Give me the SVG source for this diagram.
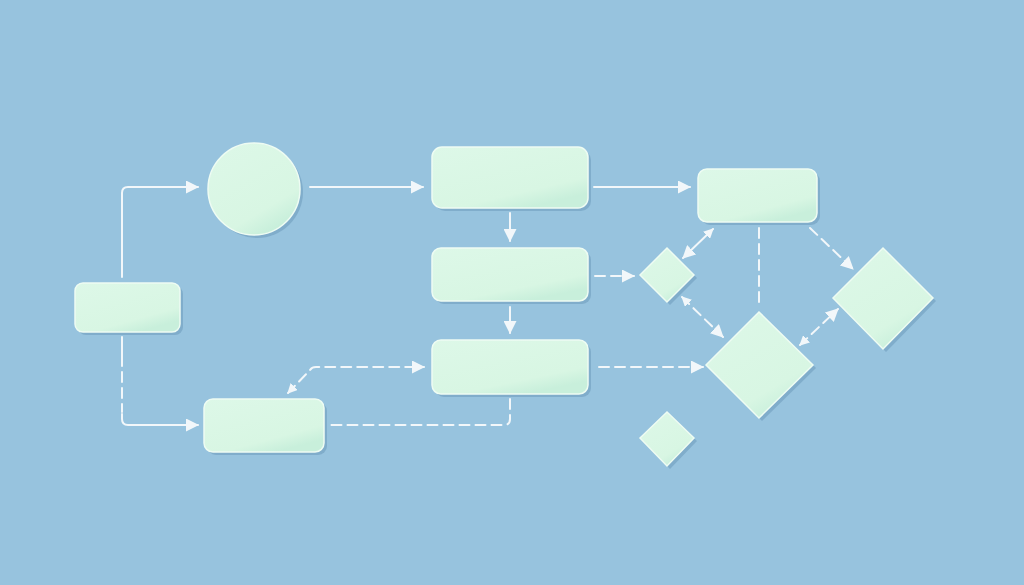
<svg xmlns="http://www.w3.org/2000/svg" width="1024" height="585" viewBox="0 0 1024 585">
<style>
.sh{fill:#78a6c4;opacity:0.75}
.nd{fill:url(#g);stroke:#eefcf3;stroke-width:1.5}
.ln{fill:none;stroke:#f2f7fa;stroke-width:2;stroke-linecap:round;stroke-linejoin:round}
.ds{stroke-dasharray:10 6}
</style>
<defs>
<linearGradient id="g" x1="0" y1="0" x2="0.6" y2="1">
<stop offset="0" stop-color="#ddf8e8"/>
<stop offset="0.8" stop-color="#d8f6e3"/>
<stop offset="1" stop-color="#c8efdb"/>
</linearGradient>
<marker id="a" markerWidth="13" markerHeight="13" refX="12" refY="6.5" orient="auto" markerUnits="userSpaceOnUse">
<path d="M0,0 L13,6.5 L0,13 z" fill="#f2f7fa"/>
</marker>
<marker id="s" markerWidth="10" markerHeight="10" refX="1" refY="5" orient="auto" markerUnits="userSpaceOnUse">
<path d="M10,0 L0,5 L10,10 z" fill="#f2f7fa"/>
</marker>
</defs>
<rect width="1024" height="585" fill="#97c3de"/>
<g id="connectors">
<path class="ln" d="M122,277 V193 Q122,187 128,187 H198" marker-end="url(#a)"/>
<path class="ln" d="M122,337 V366"/>
<path class="ln ds" d="M122,372 V412"/>
<path class="ln" d="M122,414 V419 Q122,425 128,425 H198" marker-end="url(#a)"/>
<path class="ln" d="M310,187 H423" marker-end="url(#a)"/>
<path class="ln" d="M594,187 H690" marker-end="url(#a)"/>
<path class="ln" d="M510,213 V241" marker-end="url(#a)"/>
<path class="ln" d="M510,307 V333" marker-end="url(#a)"/>
<path class="ln ds" d="M595,276 H634" marker-end="url(#a)"/>
<path class="ln ds" d="M599,367 H703" marker-end="url(#a)"/>
<path class="ln ds" d="M510,399 V419 Q510,425 504,425 H329"/>
<path class="ln ds" d="M288,393 L310,370 Q312,367 316,367 H424" marker-start="url(#s)" marker-end="url(#a)"/>
<path class="ln" d="M713,229 L683,258" marker-start="url(#s)" marker-end="url(#a)"/>
<path class="ln ds" d="M682,297 L723,337" marker-start="url(#s)" marker-end="url(#a)"/>
<path class="ln ds" d="M759,228 V306"/>
<path class="ln ds" d="M810,228 L853,269" marker-end="url(#a)"/>
<path class="ln ds" d="M800,345 L838,309" marker-start="url(#s)" marker-end="url(#a)"/>
</g>
<g id="n-left">
<rect class="sh" x="78" y="286" width="105" height="49" rx="8"/>
<rect class="nd" x="75" y="283" width="105" height="49" rx="8"/>
</g>
<g id="n-circle">
<circle class="sh" cx="257" cy="192" r="46"/>
<circle class="nd" cx="254" cy="189" r="46"/>
</g>
<g id="n-bottomleft">
<rect class="sh" x="207" y="402" width="120" height="53" rx="9"/>
<rect class="nd" x="204" y="399" width="120" height="53" rx="9"/>
</g>
<g id="n-top">
<rect class="sh" x="435" y="150" width="156" height="61" rx="10"/>
<rect class="nd" x="432" y="147" width="156" height="61" rx="10"/>
</g>
<g id="n-mid">
<rect class="sh" x="435" y="251" width="156" height="53" rx="9"/>
<rect class="nd" x="432" y="248" width="156" height="53" rx="9"/>
</g>
<g id="n-low">
<rect class="sh" x="435" y="343" width="156" height="54" rx="9"/>
<rect class="nd" x="432" y="340" width="156" height="54" rx="9"/>
</g>
<g id="n-righttop">
<rect class="sh" x="701" y="172" width="119" height="53" rx="9"/>
<rect class="nd" x="698" y="169" width="119" height="53" rx="9"/>
</g>
<g id="n-d1">
<path class="sh" d="M643,278 L670,251 L697,278 L670,305 z"/>
<path class="nd" d="M640,275 L667,248 L694,275 L667,302 z"/>
</g>
<g id="n-dbig">
<path class="sh" d="M709,368 L762,315 L816,368 L762,421 z"/>
<path class="nd" d="M706,365 L759,312 L813,365 L759,418 z"/>
</g>
<g id="n-dright">
<path class="sh" d="M836,301 L886,251 L936,301 L886,352 z"/>
<path class="nd" d="M833,298 L883,248 L933,298 L883,349 z"/>
</g>
<g id="n-dsmall">
<path class="sh" d="M643,441 L670,415 L697,441 L670,469 z"/>
<path class="nd" d="M640,438 L667,412 L694,438 L667,466 z"/>
</g>
</svg>
